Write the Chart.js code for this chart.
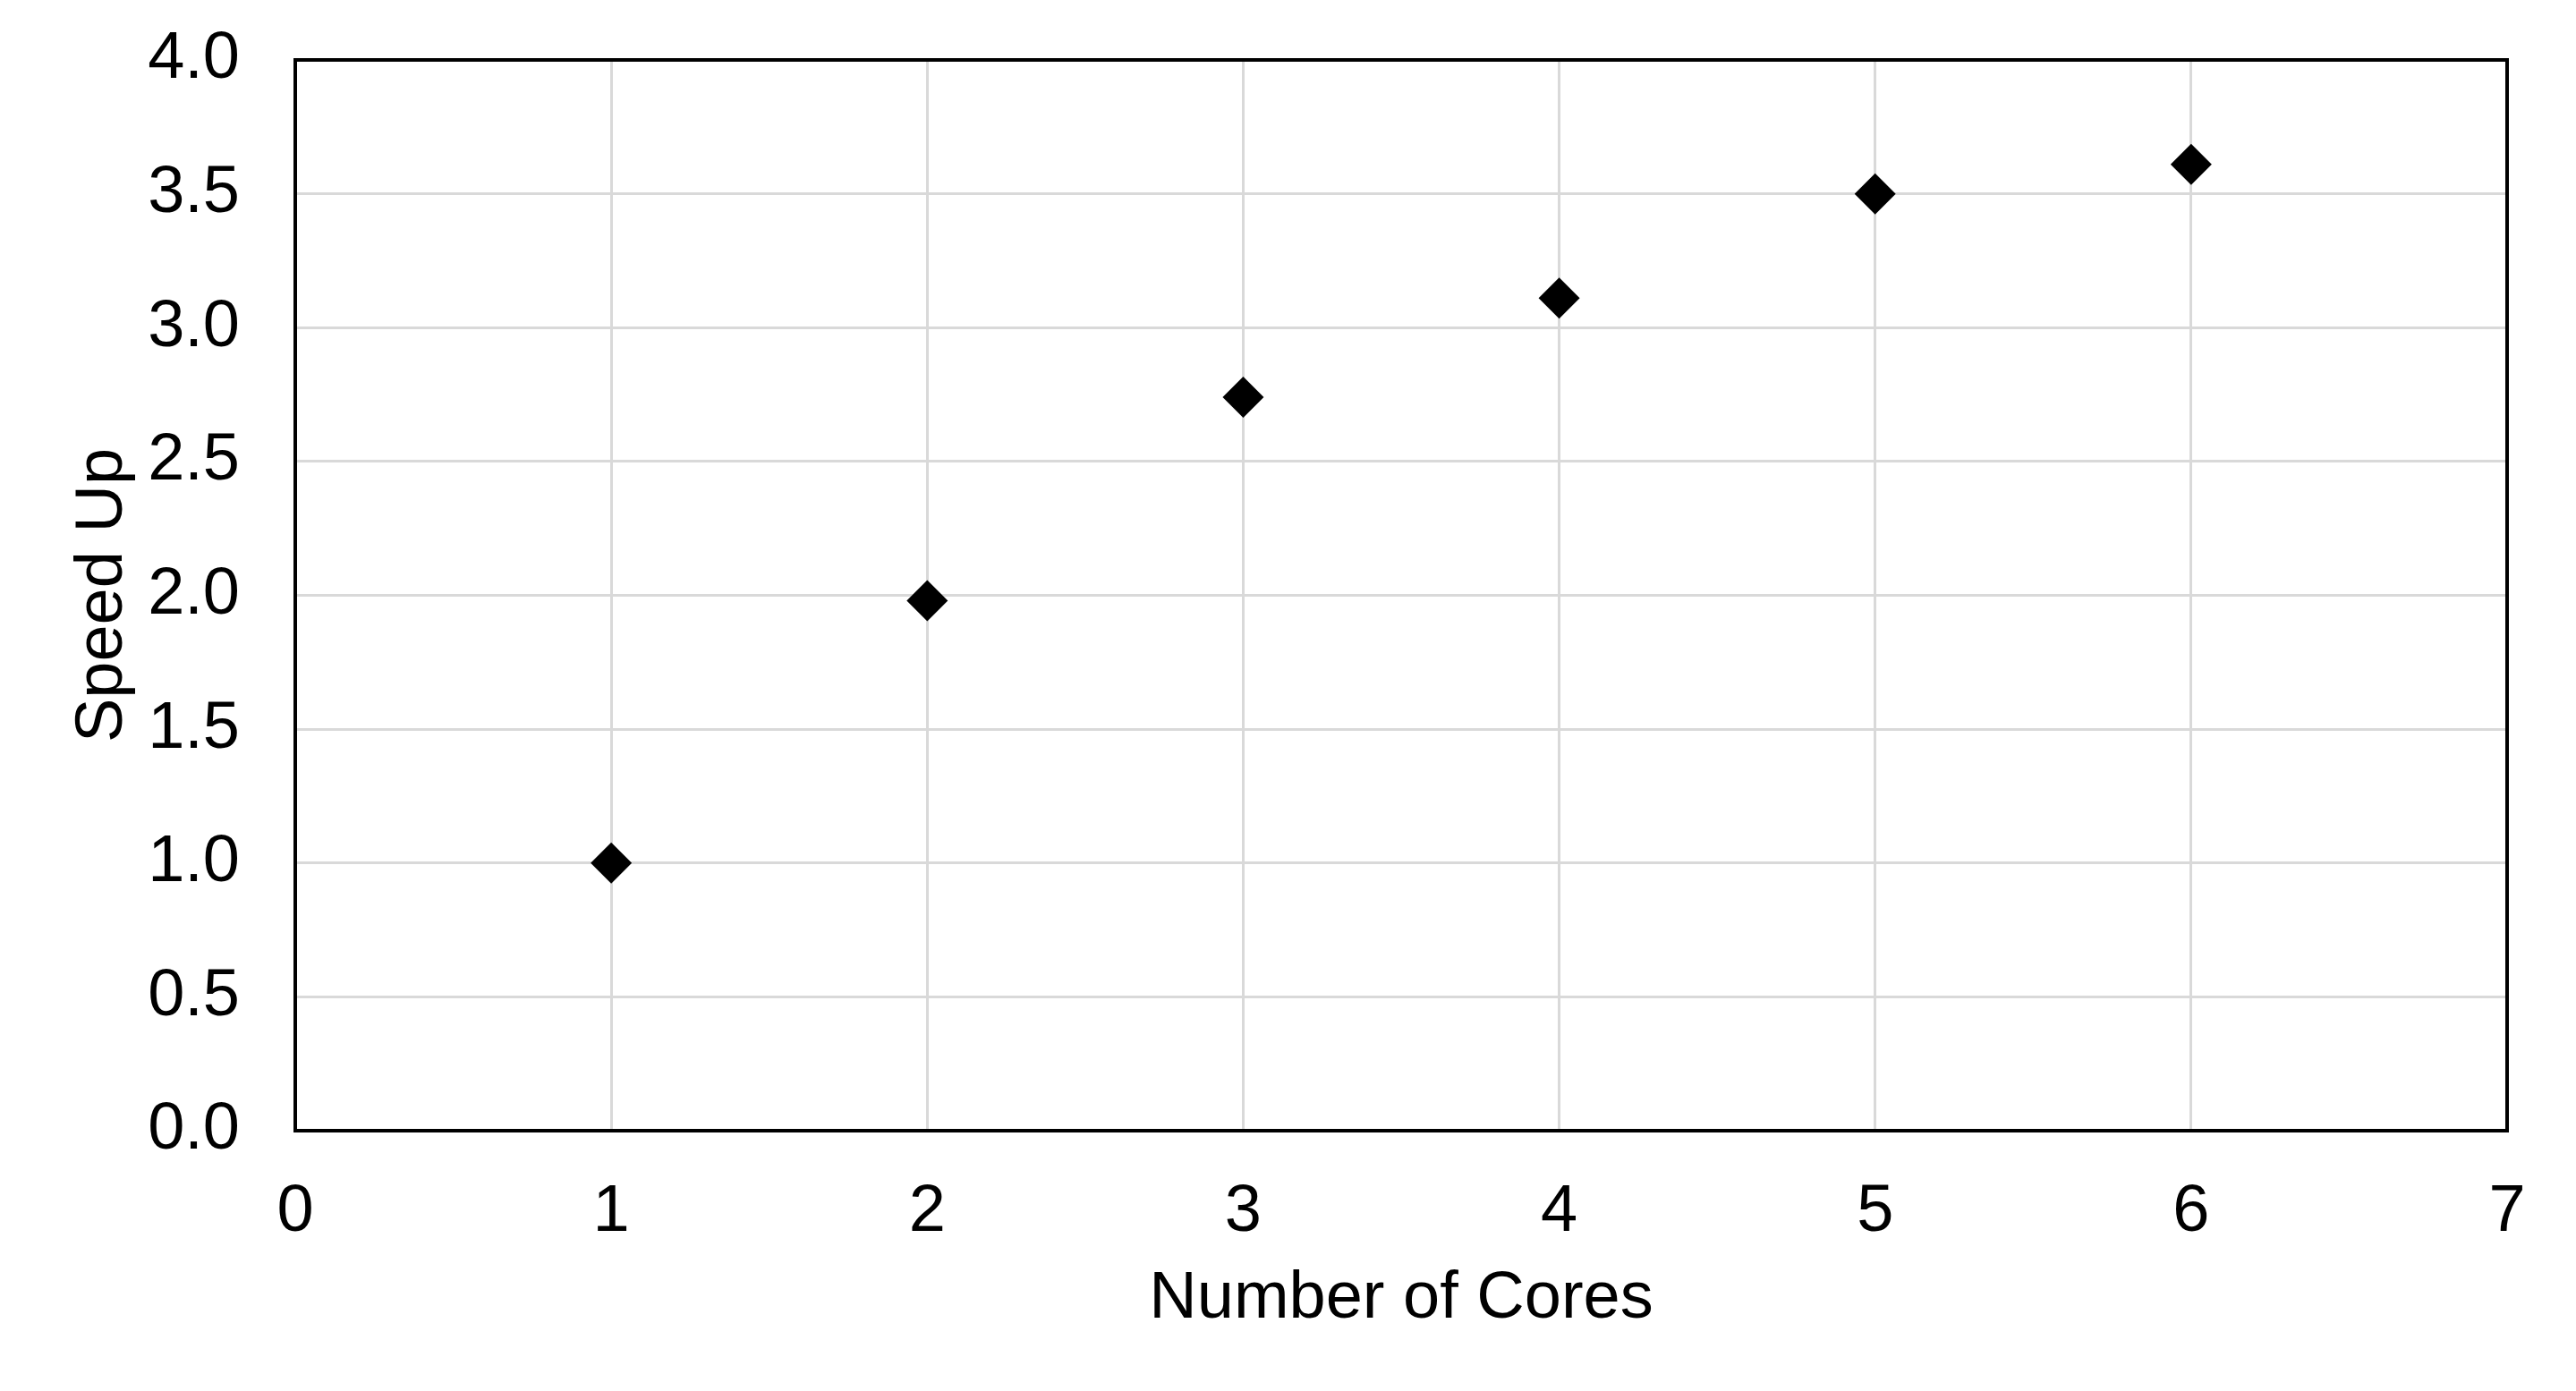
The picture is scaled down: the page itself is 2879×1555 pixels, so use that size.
<!DOCTYPE html>
<html>
<head>
<meta charset="utf-8">
<script src="https://cdn.jsdelivr.net/npm/chart.js@4/dist/chart.umd.min.js"></script>
<style>
  html, body { margin: 0; padding: 0; background: #fff; }
  #wrap { width: 2879px; height: 1555px; }
</style>
</head>
<body>
<div id="wrap"><canvas id="chart"></canvas></div>
<script>
// values
const cores = [1, 2, 3, 4, 5, 6];
const speedUp = [1.0, 1.98, 2.74, 3.11, 3.5, 3.61];
const xTicks = [0, 1, 2, 3, 4, 5, 6, 7];
const yTicks = [0, 0.5, 1, 1.5, 2, 2.5, 3, 3.5, 4];

const fontFamily = "'Liberation Sans', Arial, sans-serif";

// draws the black box round the plot area
const plotBox = {
  id: "plotBox",
  afterDraw(chart) {
    const { ctx, chartArea } = chart;
    ctx.save();
    ctx.strokeStyle = "#000";
    ctx.lineWidth = 4;
    ctx.strokeRect(chartArea.left, chartArea.top,
      chartArea.right - chartArea.left, chartArea.bottom - chartArea.top);
    ctx.restore();
  }
};

new Chart(document.getElementById("chart"), {
  type: "scatter",
  data: {
    datasets: [{
      label: "Speed Up",
      data: cores.map((c, i) => ({ x: c, y: speedUp[i] })),
      pointStyle: "rectRot",
      pointRadius: 23,
      pointHoverRadius: 23,
      backgroundColor: "#000",
      borderColor: "#000",
      borderWidth: 0
    }]
  },
  options: {
    responsive: true,
    maintainAspectRatio: false,
    animation: false,
    layout: { padding: { top: 67, right: 77, bottom: 0, left: 0 } },
    plugins: {
      legend: { display: false },
      tooltip: { enabled: false }
    },
    scales: {
      x: {
        type: "linear",
        min: xTicks[0],
        max: xTicks[xTicks.length - 1],
        afterBuildTicks: (axis) => { axis.ticks = xTicks.map(v => ({ value: v })); },
        afterFit: (axis) => {
          axis.height = 291;
          axis.paddingLeft = 0;
          axis.paddingRight = 0;
        },
        grid: { color: "#d9d9d9", lineWidth: 3, drawTicks: false },
        border: { display: false },
        ticks: {
          color: "#000",
          padding: 47,
          font: { family: fontFamily, size: 74 },
          callback: (v) => String(v)
        },
        title: {
          display: true,
          text: "Number of Cores",
          color: "#000",
          font: { family: fontFamily, size: 74 },
          padding: { top: 0, bottom: 58 }
        }
      },
      y: {
        type: "linear",
        min: yTicks[0],
        max: yTicks[yTicks.length - 1],
        afterBuildTicks: (axis) => { axis.ticks = yTicks.map(v => ({ value: v })); },
        afterFit: (axis) => {
          axis.width = 330;
          axis.paddingTop = 0;
          axis.paddingBottom = 0;
        },
        grid: { color: "#d9d9d9", lineWidth: 3, drawTicks: false },
        border: { display: false },
        ticks: {
          color: "#000",
          padding: 62,
          font: { family: fontFamily, size: 74 },
          callback: (v) => Number(v).toFixed(1)
        },
        title: {
          display: true,
          text: "Speed Up",
          color: "#000",
          font: { family: fontFamily, size: 74 },
          padding: { top: 71, bottom: 0 }
        }
      }
    }
  },
  plugins: [plotBox]
});
</script>
</body>
</html>
